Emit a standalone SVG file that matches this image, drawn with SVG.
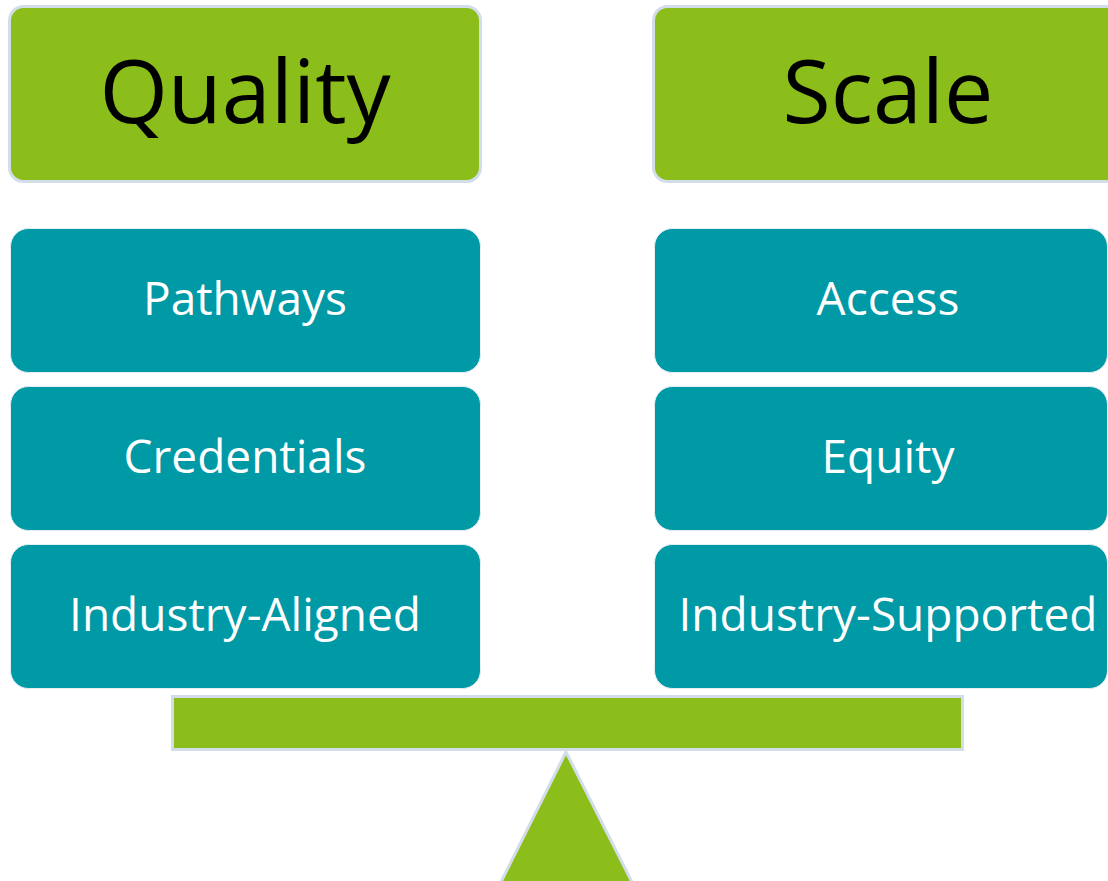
<svg xmlns="http://www.w3.org/2000/svg" width="1108" height="881" viewBox="0 0 1108 881">
<style>
.head{fill:#8bbd1b;stroke:#d3dde9;stroke-width:3}
.item{fill:#0099a6;stroke:#e6eef2;stroke-width:1}
.ht{font-family:"Open Sans","Noto Sans",sans-serif;font-size:88px;fill:#000;text-anchor:middle}
.it{font-family:"Open Sans","Noto Sans",sans-serif;font-size:46px;fill:#fff;text-anchor:middle}
.bal{fill:#8bbd1b;stroke:#d3dde9;stroke-width:3}
</style>
<rect width="1108" height="881" fill="#fff"/>
<g id="quality"><rect class="head" x="9.5" y="6.5" width="471" height="175" rx="14"/><text class="ht" x="245" y="123">Quality</text></g>
<g id="scale"><rect class="head" x="653.5" y="6.5" width="470" height="175" rx="14"/><text class="ht" x="888" y="123">Scale</text></g>
<g id="pathways"><rect class="item" x="10.5" y="228.5" width="470" height="144" rx="18"/><text class="it" x="245" y="315">Pathways</text></g>
<g id="credentials"><rect class="item" x="10.5" y="386.5" width="470" height="144" rx="18"/><text class="it" x="245" y="473">Credentials</text></g>
<g id="industry-aligned"><rect class="item" x="10.5" y="544.5" width="470" height="144" rx="18"/><text class="it" x="245" y="631">Industry-Aligned</text></g>
<g id="access"><rect class="item" x="654.5" y="228.5" width="453" height="144" rx="18"/><text class="it" x="888" y="315">Access</text></g>
<g id="equity"><rect class="item" x="654.5" y="386.5" width="453" height="144" rx="18"/><text class="it" x="888" y="473">Equity</text></g>
<g id="industry-supported"><rect class="item" x="654.5" y="544.5" width="453" height="144" rx="18"/><text class="it" x="888" y="631">Industry-Supported</text></g>
<g id="balance">
<rect class="bal" x="172.5" y="696.5" width="790" height="53"/>
<polygon class="bal" points="566,752 500,884 633,884"/>
</g>
<g id="connectors"></g>
</svg>
